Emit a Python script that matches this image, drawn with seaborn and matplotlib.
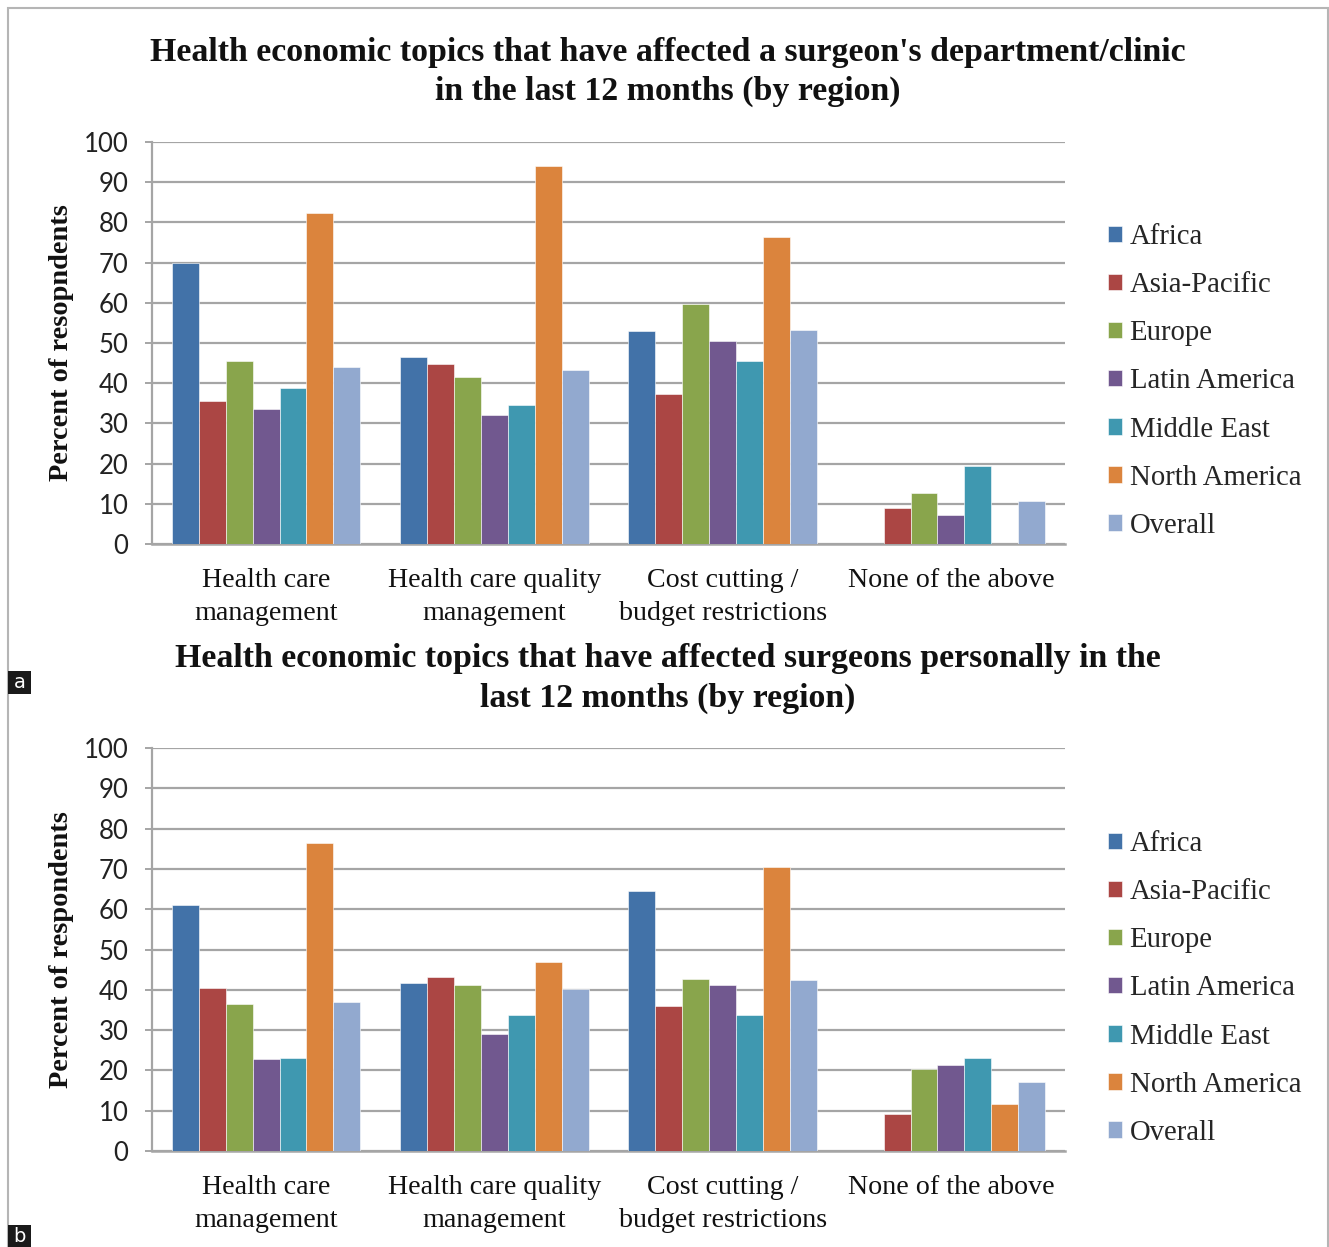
import numpy as np
import pandas as pd
import matplotlib
matplotlib.use("Agg")
import matplotlib.pyplot as plt
from matplotlib.patches import Rectangle
import seaborn as sns

# ---- data -------------------------------------------------------------
topics = ["Health care\nmanagement", "Health care quality\nmanagement",
          "Cost cutting /\nbudget restrictions", "None of the above"]
regions = ["Africa", "Asia-Pacific", "Europe", "Latin America",
           "Middle East", "North America", "Overall"]

# (a) department / clinic, one list per region across the four topics
dept_africa = [70.0, 46.5, 53.0, 0.0]
dept_asia = [35.5, 44.7, 37.3, 8.9]
dept_europe = [45.5, 41.5, 59.8, 12.6]
dept_latam = [33.5, 32.0, 50.5, 7.3]
dept_mideast = [38.8, 34.5, 45.5, 19.3]
dept_namerica = [82.3, 94.0, 76.3, 0.0]
dept_overall = [44.1, 43.3, 53.2, 10.8]

# (b) surgeons personally
pers_africa = [61.1, 41.8, 64.4, 0.0]
pers_asia = [40.5, 43.3, 36.0, 9.1]
pers_europe = [36.4, 41.1, 42.8, 20.4]
pers_latam = [22.9, 29.1, 41.3, 21.3]
pers_mideast = [23.2, 33.8, 33.8, 23.2]
pers_namerica = [76.4, 47.0, 70.5, 11.6]
pers_overall = [37.0, 40.3, 42.4, 17.1]

yticks = list(range(0, 101, 10))

titles = ["Health economic topics that have affected a surgeon's department/clinic\nin the last 12 months (by region)",
          "Health economic topics that have affected surgeons personally in the\nlast 12 months (by region)"]
ylabels = ["Percent of resopndents", "Percent of respondents"]

colors = ["#4272A8", "#AB4644", "#89A54C", "#71588F", "#3F98B0", "#DB843D", "#92A9CF"]


def long_frame(series):
    rows = []
    for reg, vals in zip(regions, series):
        for t, v in zip(topics, vals):
            rows.append({"Topic": t, "Region": reg, "Percent": v})
    return pd.DataFrame(rows)


df_a = long_frame([dept_africa, dept_asia, dept_europe, dept_latam,
                   dept_mideast, dept_namerica, dept_overall])
df_b = long_frame([pers_africa, pers_asia, pers_europe, pers_latam,
                   pers_mideast, pers_namerica, pers_overall])

# ---- figure -----------------------------------------------------------
sns.set_theme(style="white")
W, H = 1329, 1247
fig = plt.figure(figsize=(W / 100, H / 100), dpi=100)
fig.patch.set_facecolor("white")

SERIF = "Liberation Serif"
SANS = "Lato"
GRID = "#A5A5A5"


def px_axes(x0, y_top, x1, y_bot):
    return fig.add_axes([x0 / W, 1 - y_bot / H, (x1 - x0) / W, (y_bot - y_top) / H])


panels = [
    (df_a, 142, 544, 52, 91, 343, 224),
    (df_b, 748, 1151, 659, 698, 950, 831),
]

for i, (df, ytop, ybot, t1, t2, ymid, legtop) in enumerate(panels):
    ax = px_axes(152, ytop, 1065, ybot)
    sns.barplot(data=df, x="Topic", y="Percent", hue="Region", order=topics,
                hue_order=regions, palette=colors, width=0.825, saturation=1,
                edgecolor="white", linewidth=0.4, ax=ax, errorbar=None, zorder=3)
    ax.set_ylim(0, 100)
    ax.set_xlim(-0.5, 3.5)
    ax.set_yticks(yticks)
    ax.set_yticklabels([str(v) for v in yticks], fontsize=18.5, family=SANS, color="#222222")
    ax.yaxis.grid(True, color=GRID, linewidth=1.6, zorder=0)
    ax.set_axisbelow(True)
    ax.xaxis.grid(False)
    for s in ["top", "right"]:
        ax.spines[s].set_visible(False)
    ax.spines["left"].set_color(GRID)
    ax.spines["left"].set_linewidth(1.6)
    ax.spines["bottom"].set_color(GRID)
    ax.spines["bottom"].set_linewidth(1.8)
    ax.tick_params(axis="y", left=True, length=5, width=1.4, color=GRID, pad=12)
    ax.tick_params(axis="x", bottom=False, length=0, pad=17)
    ax.set_xticks(range(len(topics)))
    ax.set_xticklabels(topics, fontsize=20.2, family=SERIF, color="#111111",
                       linespacing=1.42, va="top")
    ax.set_xlabel("")
    ax.set_ylabel("")

    handles, labels = ax.get_legend_handles_labels()
    ax.legend(handles, labels, loc="upper left",
              bbox_to_anchor=(1108 / W, 1 - legtop / H), bbox_transform=fig.transFigure,
              frameon=False, prop={"family": SERIF, "size": 20.7},
              handlelength=0.5, handleheight=0.5, handletextpad=0.25,
              labelspacing=0.77, borderpad=0, borderaxespad=0)

    fig.text(668 / W, 1 - t1 / H, titles[i].split("\n")[0], ha="center", va="center",
             family=SERIF, fontweight="bold", fontsize=24.4, color="#111111")
    fig.text(668 / W, 1 - t2 / H, titles[i].split("\n")[1], ha="center", va="center",
             family=SERIF, fontweight="bold", fontsize=24.4, color="#111111")
    fig.text(62 / W, 1 - ymid / H, ylabels[i], rotation=90, ha="center", va="center",
             family=SERIF, fontweight="bold", fontsize=20.4, color="#111111")

# frame around the figure
fig.patches.append(Rectangle((8 / W, -0.01), (1328 - 8) / W, 1 - 8 / H + 0.01,
                             transform=fig.transFigure, fill=False,
                             edgecolor="#B5B5B5", linewidth=1.5))

# panel letters
for letter, y0, y1 in [("a", 671, 694), ("b", 1225, 1247)]:
    fig.patches.append(Rectangle((8 / W, 1 - y1 / H), 23 / W, (y1 - y0) / H,
                                 transform=fig.transFigure, facecolor="#1A1A1A",
                                 edgecolor="none"))
    fig.text(19.5 / W, 1 - (y0 + y1) / 2 / H, letter, ha="center", va="center",
             color="white", fontsize=14, family="DejaVu Sans")

fig.savefig("out.png", dpi=100, facecolor="white")
